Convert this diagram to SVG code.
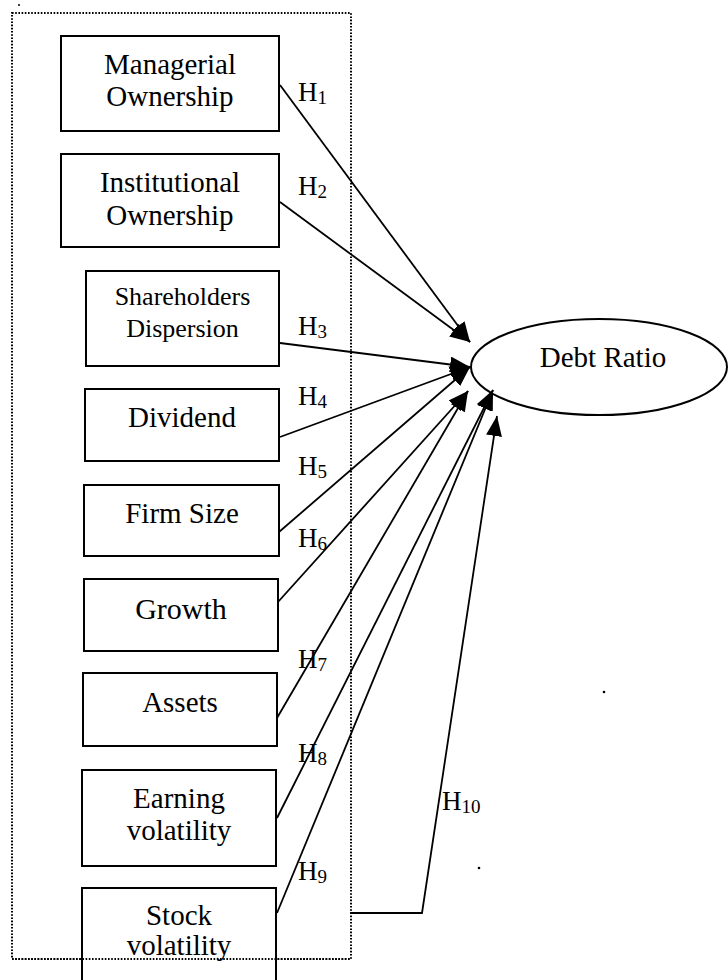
<svg xmlns="http://www.w3.org/2000/svg" width="728" height="980" viewBox="0 0 728 980">
<style>
.box{fill:#fff;stroke:#000;stroke-width:2}
.t{font-family:"Liberation Serif","Times New Roman",serif;font-size:29px;fill:#000;text-anchor:middle}
.h{font-family:"Liberation Serif","Times New Roman",serif;font-size:27px;fill:#000}
.s{font-size:19px}
.c{fill:none;stroke:#000;stroke-width:1.8}
.dot{fill:none;stroke:#000;stroke-width:2;stroke-dasharray:1.6 1.6}
</style>
<defs>
<marker id="ah" markerUnits="userSpaceOnUse" markerWidth="22" markerHeight="16" refX="20" refY="8" orient="auto">
<path d="M0,0 L20,8 L0,16 Z" fill="#000"/>
</marker>
</defs>
<rect width="728" height="980" fill="#fff"/>
<rect id="group" class="dot" x="12" y="13" width="339" height="946"/>
<g id="connectors">
<line class="c" x1="280" y1="85" x2="470" y2="342" marker-end="url(#ah)"/>
<line class="c" x1="280" y1="202" x2="470" y2="342" marker-end="url(#ah)"/>
<line class="c" x1="280" y1="343" x2="470" y2="367" marker-end="url(#ah)"/>
<line class="c" x1="280" y1="437" x2="470" y2="367" marker-end="url(#ah)"/>
<line class="c" x1="279" y1="532" x2="470" y2="367" marker-end="url(#ah)"/>
<line class="c" x1="278" y1="602" x2="468" y2="391" marker-end="url(#ah)"/>
<line class="c" x1="277" y1="718" x2="468" y2="391" marker-end="url(#ah)"/>
<line class="c" x1="277" y1="818" x2="493" y2="390" marker-end="url(#ah)"/>
<line class="c" x1="277" y1="913" x2="493" y2="390" marker-end="url(#ah)"/>
<polyline class="c" points="350,913 422,913 497,416" marker-end="url(#ah)"/>
</g>
<g id="labels">
<text class="h" x="298" y="101">H<tspan class="s" dy="3">1</tspan></text>
<text class="h" x="298" y="195">H<tspan class="s" dy="3">2</tspan></text>
<text class="h" x="298" y="335">H<tspan class="s" dy="3">3</tspan></text>
<text class="h" x="298" y="405">H<tspan class="s" dy="3">4</tspan></text>
<text class="h" x="298" y="475">H<tspan class="s" dy="3">5</tspan></text>
<text class="h" x="298" y="547">H<tspan class="s" dy="3">6</tspan></text>
<text class="h" x="298" y="668">H<tspan class="s" dy="3">7</tspan></text>
<text class="h" x="298" y="762">H<tspan class="s" dy="3">8</tspan></text>
<text class="h" x="298" y="880">H<tspan class="s" dy="3">9</tspan></text>
<text class="h" x="442" y="810">H<tspan class="s" dy="3">10</tspan></text>
</g>
<g id="n1"><rect class="box" x="61" y="36" width="218" height="95"/><text class="t" x="170" y="74">Managerial</text><text class="t" x="170" y="106">Ownership</text></g>
<g id="n2"><rect class="box" x="61" y="154" width="218" height="93"/><text class="t" x="170" y="192">Institutional</text><text class="t" x="170" y="225">Ownership</text></g>
<g id="n3"><rect class="box" x="86" y="271" width="193" height="95"/><text class="t" x="182.5" y="305" style="font-size:26px">Shareholders</text><text class="t" x="182.5" y="337" style="font-size:26px">Dispersion</text></g>
<g id="n4"><rect class="box" x="85" y="389" width="194" height="72"/><text class="t" x="182" y="427">Dividend</text></g>
<g id="n5"><rect class="box" x="84" y="485" width="195" height="71"/><text class="t" x="182" y="523">Firm Size</text></g>
<g id="n6"><rect class="box" x="84" y="579" width="194" height="72"/><text class="t" x="181" y="619" style="font-size:30px">Growth</text></g>
<g id="n7"><rect class="box" x="83" y="673" width="194" height="73"/><text class="t" x="180" y="712">Assets</text></g>
<g id="n8"><rect class="box" x="82" y="770" width="194" height="96"/><text class="t" x="179" y="808">Earning</text><text class="t" x="179" y="840">volatility</text></g>
<g id="n9"><rect class="box" x="82" y="888" width="194" height="100"/><text class="t" x="179" y="925">Stock</text><text class="t" x="179" y="955">volatility</text></g>
<line class="dot" x1="12" y1="959" x2="351" y2="959"/>
<g id="debt"><ellipse cx="599" cy="367" rx="128" ry="48" fill="none" stroke="#000" stroke-width="2"/><text class="t" x="603" y="367">Debt Ratio</text></g>
<circle cx="19" cy="5" r="1" fill="#000"/>
<circle cx="479" cy="868" r="1.3" fill="#000"/>
<circle cx="604" cy="692" r="1.3" fill="#000"/>
</svg>
